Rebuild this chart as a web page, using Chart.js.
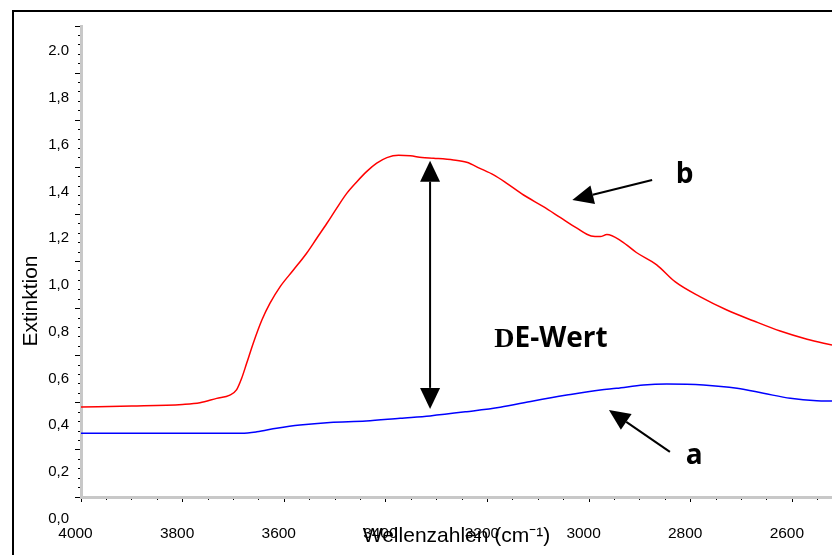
<!DOCTYPE html>
<html>
<head>
<meta charset="utf-8">
<script src="https://cdn.jsdelivr.net/npm/chart.js@4.4.1/dist/chart.umd.min.js"></script>
<style>
html,body{margin:0;padding:0;overflow:hidden;background:#fff;width:832px;height:555px}
#wrap{position:relative;width:832px;height:555px}
canvas{position:absolute;left:0;top:0}
#frame{position:absolute;left:12px;top:10px;width:900px;height:700px;border:2px solid #000;box-sizing:border-box;pointer-events:none}
</style>
</head>
<body>
<div id="wrap"><canvas id="c" width="832" height="555"></canvas><div id="frame"></div></div>
<script>
// ---- data ----
const xTickValues = [4000, 3800, 3600, 3400, 3200, 3000, 2800, 2600];
const yTickValues = [0, 0.2, 0.4, 0.6, 0.8, 1.0, 1.2, 1.4, 1.6, 1.8, 2.0];
const yTickLabels = ['0,0', '0,2', '0,4', '0,6', '0,8', '1,0', '1,2', '1,4', '1,6', '1,8', '2.0'];
const xTitle = 'Wellenzahlen (cm\u207B\u00B9)';
const yTitle = 'Extinktion';

// curve b (red)
const waveB = [4000, 3900, 3800, 3766, 3733, 3707, 3694, 3684, 3674, 3661, 3644, 3628, 3608, 3582, 3556, 3536, 3516, 3497, 3477, 3457, 3438, 3418, 3398, 3375, 3352, 3329, 3306, 3267, 3241, 3215, 3188, 3162, 3129, 3090, 3057, 3024, 2996, 2978, 2965, 2936, 2907, 2867, 2831, 2782, 2729, 2677, 2624, 2571, 2522];
const extB  = [0.478, 0.482, 0.489, 0.496, 0.515, 0.529, 0.551, 0.600, 0.665, 0.751, 0.850, 0.922, 0.993, 1.064, 1.136, 1.200, 1.264, 1.328, 1.392, 1.442, 1.485, 1.521, 1.545, 1.555, 1.553, 1.545, 1.542, 1.535, 1.525, 1.499, 1.471, 1.435, 1.385, 1.335, 1.289, 1.243, 1.210, 1.207, 1.216, 1.187, 1.139, 1.086, 1.014, 0.950, 0.893, 0.847, 0.803, 0.768, 0.743];

// curve a (blue)
const waveA = [4000, 3800, 3684, 3654, 3615, 3569, 3510, 3439, 3372, 3313, 3241, 3175, 3110, 3044, 2978, 2946, 2893, 2847, 2775, 2709, 2657, 2604, 2552, 2522];
const extA  = [0.366, 0.366, 0.366, 0.372, 0.387, 0.401, 0.412, 0.418, 0.430, 0.440, 0.458, 0.477, 0.504, 0.529, 0.551, 0.558, 0.572, 0.576, 0.572, 0.558, 0.537, 0.515, 0.505, 0.504];

// annotations (data coordinates)
const annArrows = [
  {from: [2876, 1.449], to: [3033, 1.364]},
  {from: [2841, 0.286], to: [2961, 0.465]}
];
const annDouble = {x: 3313, yTop: 1.532, yBottom: 0.470};
const annLabels = [
  {text: 'b', x: 2812, y: 1.470},
  {text: 'a', x: 2793, y: 0.267}
];
const annDelta = {symbol: 'D', text: 'E-Wert', x: 3075, y: 0.767};

// ---- helpers ----
const toPoints = (w, e) => w.map((x, i) => ({x: x, y: e[i]}));

function drawHead(ctx, x1, y1, x2, y2, len, half) {
  const a = Math.atan2(y2 - y1, x2 - x1);
  const bx = x2 - len * Math.cos(a), by = y2 - len * Math.sin(a);
  ctx.beginPath();
  ctx.moveTo(x2, y2);
  ctx.lineTo(bx + half * Math.sin(a), by - half * Math.cos(a));
  ctx.lineTo(bx - half * Math.sin(a), by + half * Math.cos(a));
  ctx.closePath();
  ctx.fill();
  return [bx, by];
}

const annotationPlugin = {
  id: 'annotations',
  afterDatasetsDraw(chart) {
    const ctx = chart.ctx, xs = chart.scales.x, ys = chart.scales.y;
    const px = v => xs.getPixelForValue(v), py = v => ys.getPixelForValue(v);
    ctx.save();
    ctx.fillStyle = '#000';
    ctx.strokeStyle = '#000';
    ctx.lineWidth = 2;
    annArrows.forEach(a => {
      const x1 = px(a.from[0]), y1 = py(a.from[1]), x2 = px(a.to[0]), y2 = py(a.to[1]);
      const base = drawHead(ctx, x1, y1, x2, y2, 21, 9.5);
      ctx.beginPath(); ctx.moveTo(x1, y1); ctx.lineTo(base[0], base[1]); ctx.stroke();
    });
    const dx = px(annDouble.x), yt = py(annDouble.yTop), yb = py(annDouble.yBottom);
    const b1 = drawHead(ctx, dx, yb, dx, yt, 21, 10);
    const b2 = drawHead(ctx, dx, yt, dx, yb, 21, 10);
    ctx.beginPath(); ctx.moveTo(dx, b1[1]); ctx.lineTo(dx, b2[1]); ctx.stroke();
    ctx.textBaseline = 'middle';
    ctx.textAlign = 'center';
    ctx.font = 'bold 28px "Open Sans"';
    annLabels.forEach(l => ctx.fillText(l.text, px(l.x), py(l.y)));
    const serif = 'bold 28px "Liberation Serif"';
    const sans = 'bold 28px "Open Sans"';
    ctx.font = serif; const w1 = ctx.measureText(annDelta.symbol).width;
    ctx.font = sans; const w2 = ctx.measureText(annDelta.text).width;
    const cx = px(annDelta.x), cy = py(annDelta.y);
    ctx.textAlign = 'left';
    ctx.font = serif; ctx.fillText(annDelta.symbol, cx - (w1 + w2) / 2, cy);
    ctx.font = sans; ctx.fillText(annDelta.text, cx - (w1 + w2) / 2 + w1, cy);
    ctx.restore();
  }
};

const axisFont = {family: '"Liberation Sans", Arial, sans-serif'};
const xMin = 2522, xMax = 4000, yMin = 0.093, yMax = 2.108;

function evenTicks(n) {
  return s => { s.ticks = Array.from({length: n + 1}, (_, k) => ({value: s.min + k * (s.max - s.min) / n})); };
}

new Chart(document.getElementById('c').getContext('2d'), {
  type: 'line',
  data: {
    datasets: [
      {label: 'b', data: toPoints(waveB, extB), borderColor: '#ff0000', borderWidth: 1.5, pointRadius: 0, fill: false, cubicInterpolationMode: 'monotone'},
      {label: 'a', data: toPoints(waveA, extA), borderColor: '#0000ff', borderWidth: 1.5, pointRadius: 0, fill: false, cubicInterpolationMode: 'monotone'}
    ]
  },
  options: {
    responsive: false,
    animation: false,
    devicePixelRatio: 1,
    layout: {padding: {left: 0, top: 26, right: 0, bottom: -21}},
    plugins: {
      legend: {display: false},
      tooltip: {enabled: false},
      title: {
        display: true, position: 'left', fullSize: true, text: yTitle, color: '#000',
        font: {family: axisFont.family, size: 21, weight: 'normal'},
        padding: {top: 18.4, bottom: 0}
      }
    },
    scales: {
      x: {
        type: 'linear', position: 'bottom', reverse: true, min: xMin, max: xMax,
        afterBuildTicks: s => { s.ticks = xTickValues.map(v => ({value: v})); },
        afterFit: s => { s.height = 79; },
        ticks: {autoSkip: false, maxRotation: 0, padding: 22, labelOffset: -5.5, color: '#000',
                font: {family: axisFont.family, size: 15.5}, callback: v => String(v)},
        grid: {display: true, drawOnChartArea: false, drawTicks: true, tickLength: 5, color: '#000', lineWidth: 1},
        border: {display: true, color: '#c8c8c8', width: 3},
        title: {display: true, text: xTitle, color: '#000', font: {family: axisFont.family, size: 21}, padding: {top: 0, bottom: 27}}
      },
      xMinor: {
        type: 'linear', position: 'bottom', reverse: true, min: xMin, max: xMax, weight: -1,
        afterBuildTicks: s => { const t = []; for (let v = Math.ceil(s.min / 50) * 50; v <= s.max; v += 50) t.push({value: v}); s.ticks = t; },
        afterFit: s => { s.height = 0; },
        ticks: {display: false, autoSkip: false},
        grid: {display: true, drawOnChartArea: false, drawTicks: true, tickLength: 3, color: '#000', lineWidth: 1},
        border: {display: false}
      },
      y: {
        type: 'linear', position: 'left', min: yMin, max: yMax,
        afterBuildTicks: s => { s.ticks = yTickValues.map(v => ({value: v})); },
        afterFit: s => { s.width = 37.4; },
        ticks: {autoSkip: false, padding: 12, color: '#000', font: {family: axisFont.family, size: 15},
                callback: (v, i) => yTickLabels[i]},
        grid: {display: false, drawTicks: false, tickLength: 0},
        border: {display: true, color: '#c8c8c8', width: 3}
      },
      yMajor: {
        type: 'linear', position: 'left', min: yMin, max: yMax, weight: -1,
        afterBuildTicks: evenTicks(10),
        afterFit: s => { s.width = 0; },
        ticks: {display: false, autoSkip: false},
        grid: {display: true, drawOnChartArea: false, drawTicks: true, tickLength: 6, color: '#000', lineWidth: 1},
        border: {display: false}
      },
      yMinor: {
        type: 'linear', position: 'left', min: yMin, max: yMax, weight: -1,
        afterBuildTicks: evenTicks(50),
        afterFit: s => { s.width = 0; },
        ticks: {display: false, autoSkip: false},
        grid: {display: true, drawOnChartArea: false, drawTicks: true, tickLength: 3, color: '#000', lineWidth: 1},
        border: {display: false}
      }
    }
  },
  plugins: [annotationPlugin]
});
</script>
</body>
</html>
